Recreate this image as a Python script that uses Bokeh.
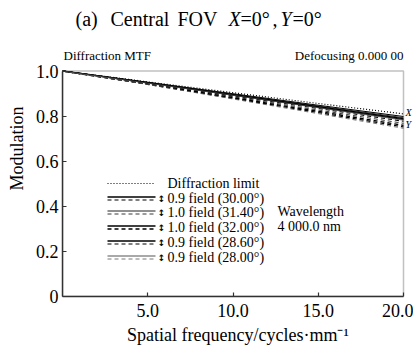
from bokeh.plotting import figure
from bokeh.models import Label, Arrow, FixedTicker, Range1d, BoxAnnotation
from bokeh.embed import file_html
from bokeh.resources import INLINE

# ---- data ----
freq = [0.0, 5.0, 10.0, 15.0, 20.0]
diffraction = [1.0, 0.952, 0.904, 0.856, 0.810]
f30_x = [1.0, 0.950, 0.899, 0.848, 0.798]
f30_y = [1.0, 0.946, 0.890, 0.834, 0.777]
f314_x = [1.0, 0.949, 0.897, 0.845, 0.793]
f314_y = [1.0, 0.944, 0.886, 0.827, 0.768]
f32_x = [1.0, 0.948, 0.895, 0.842, 0.789]
f32_y = [1.0, 0.942, 0.882, 0.821, 0.759]
f286_x = [1.0, 0.947, 0.893, 0.839, 0.785]
f286_y = [1.0, 0.941, 0.879, 0.816, 0.752]
f28_x = [1.0, 0.946, 0.892, 0.837, 0.782]
f28_y = [1.0, 0.940, 0.876, 0.811, 0.746]
legend_labels = ["0.9 field (30.00\u00b0)", "1.0 field (31.40\u00b0)", "1.0 field (32.00\u00b0)",
                 "0.9 field (28.60\u00b0)", "0.9 field (28.00\u00b0)"]
x_ticks = [5, 10, 15, 20]
x_tick_labels = ["5.0", "10.0", "15.0", "20.0"]
y_ticks = [0, 0.2, 0.4, 0.6, 0.8, 1.0]
y_tick_labels = ["0", "0.2", "0.4", "0.6", "0.8", "1.0"]
x_min, x_max = 0.0, 20.0
y_min, y_max = 0.0, 1.0

W, H = 413, 347
L = 62            # left border (px)
B = 49            # bottom border (px)
FB = H - B        # frame bottom in canvas px
PX_X = (403 - L) / (x_max - x_min)   # px per x unit
PX_Y = (FB - 71) / (y_max - y_min)   # px per y unit

SERIF = "Liberation Serif"

# frame extends to the canvas top/right so that header texts are not clipped
p = figure(width=W, height=H, output_backend="svg", toolbar_location=None,
           x_range=Range1d(x_min, x_max + (W - 403) / PX_X),
           y_range=Range1d(y_min, y_max + 71 / PX_Y),
           min_border_left=L, min_border_right=0, min_border_top=0, min_border_bottom=B)
p.grid.visible = False
p.outline_line_color = None

for ax in (p.xaxis[0], p.yaxis[0]):
    ax.major_tick_in = 4
    ax.major_tick_out = 0
    ax.minor_tick_in = 0
    ax.minor_tick_out = 0
    ax.axis_line_color = "#333333"
    ax.axis_line_width = 1.5
    ax.major_tick_line_color = "#333333"
    ax.major_tick_line_width = 1.2
    ax.major_label_text_font = SERIF
    ax.major_label_text_font_size = "18px"
    ax.major_label_text_color = "black"
    ax.axis_label_text_font = SERIF
    ax.axis_label_text_font_style = "normal"
    ax.axis_label_text_font_size = "18px"
    ax.axis_label_text_color = "black"

p.xaxis.bounds = (x_min, x_max)
p.yaxis.bounds = (y_min, y_max)
p.xaxis.ticker = FixedTicker(ticks=x_ticks)
p.xaxis.major_label_overrides = dict(zip(x_ticks, x_tick_labels))
p.xaxis.major_label_standoff = 7
p.xaxis.axis_label = "Spatial frequency/cycles\u00b7mm\u207b\u00b9"
p.xaxis.axis_label_standoff = 5
p.yaxis.ticker = FixedTicker(ticks=y_ticks)
p.yaxis.major_label_standoff = 4
p.yaxis.major_label_overrides = dict(zip(y_ticks, y_tick_labels))
p.yaxis.axis_label = "Modulation"
p.yaxis.axis_label_standoff = 6

# plot box (top and right edges)
p.add_layout(BoxAnnotation(left=x_min, right=x_max, bottom=y_min, top=y_max,
                           fill_color=None, line_color="#333333", line_width=1.5))

# ---- curves ----
p.line(freq, diffraction, line_color="black", line_width=1.2, line_dash="1 2")
series = [(f30_x, f30_y), (f314_x, f314_y), (f32_x, f32_y), (f286_x, f286_y), (f28_x, f28_y)]
widths = [1.1, 0.9, 1.4, 1.2, 0.8]
greys = ["black", "#222222", "black", "black", "#555555"]
for (sx, sy), w, c in zip(series, widths, greys):
    p.line(freq, sx, line_color=c, line_width=w)
    p.line(freq, sy, line_color=c, line_width=w, line_dash="4 3")


def lab(text, cx, cy, size="14px", align="left", style="normal", font=SERIF, baseline="middle"):
    p.add_layout(Label(x=cx - L, y=FB - cy, x_units="screen", y_units="screen", text=text,
                       text_font=font, text_font_size=size, text_align=align,
                       text_baseline=baseline, text_font_style=style, text_color="black"))


def seg(x0, y0, x1, y1, dash="solid", width=1.0, color="black"):
    p.add_layout(Arrow(x_start=x0 - L, y_start=FB - y0, x_end=x1 - L, y_end=FB - y1,
                       start_units="screen", end_units="screen", start=None, end=None,
                       line_color=color, line_width=width, line_dash=dash))


# ---- title & header texts ----
TS = "20px"
lab("(a)", 75, 20, TS)
lab("Central", 110, 20, TS)
lab("FOV", 177, 20, TS)
lab("X", 228, 20, TS, style="italic")
lab("=0\u00b0", 240, 20, TS)
lab(",", 272, 20, TS)
lab("Y", 280, 20, TS, style="italic")
lab("=0\u00b0", 292, 20, TS)

lab("Diffraction MTF", 63, 57, "13px")
lab("Defocusing 0.000 00", 403, 57, "13px", align="right")

lab("X", 405, 114, "10px", style="italic")
lab("Y", 405, 126, "10px", style="italic")

# ---- legend ----
rows = [185, 200, 214, 229, 244, 259]
seg(107, rows[0], 153, rows[0], dash="1 2", width=1.2)
lab("Diffraction limit", 167, rows[0])
for i, (txt, w, c) in enumerate(zip(legend_labels, widths, greys)):
    y = rows[i + 1]
    seg(107, y - 1.5, 155, y - 1.5, width=w + 0.3, color=c)
    seg(107, y + 1.5, 155, y + 1.5, dash="4 3", width=w, color=c)
    lab("\u2195", 161, y, "9px", align="center", font="DejaVu Sans", style="bold")
    lab(txt, 167, y)

lab("Wavelength", 277, 213)
lab("4 000.0 nm", 277, 228)

open("out.html", "w").write(file_html(p, INLINE))
